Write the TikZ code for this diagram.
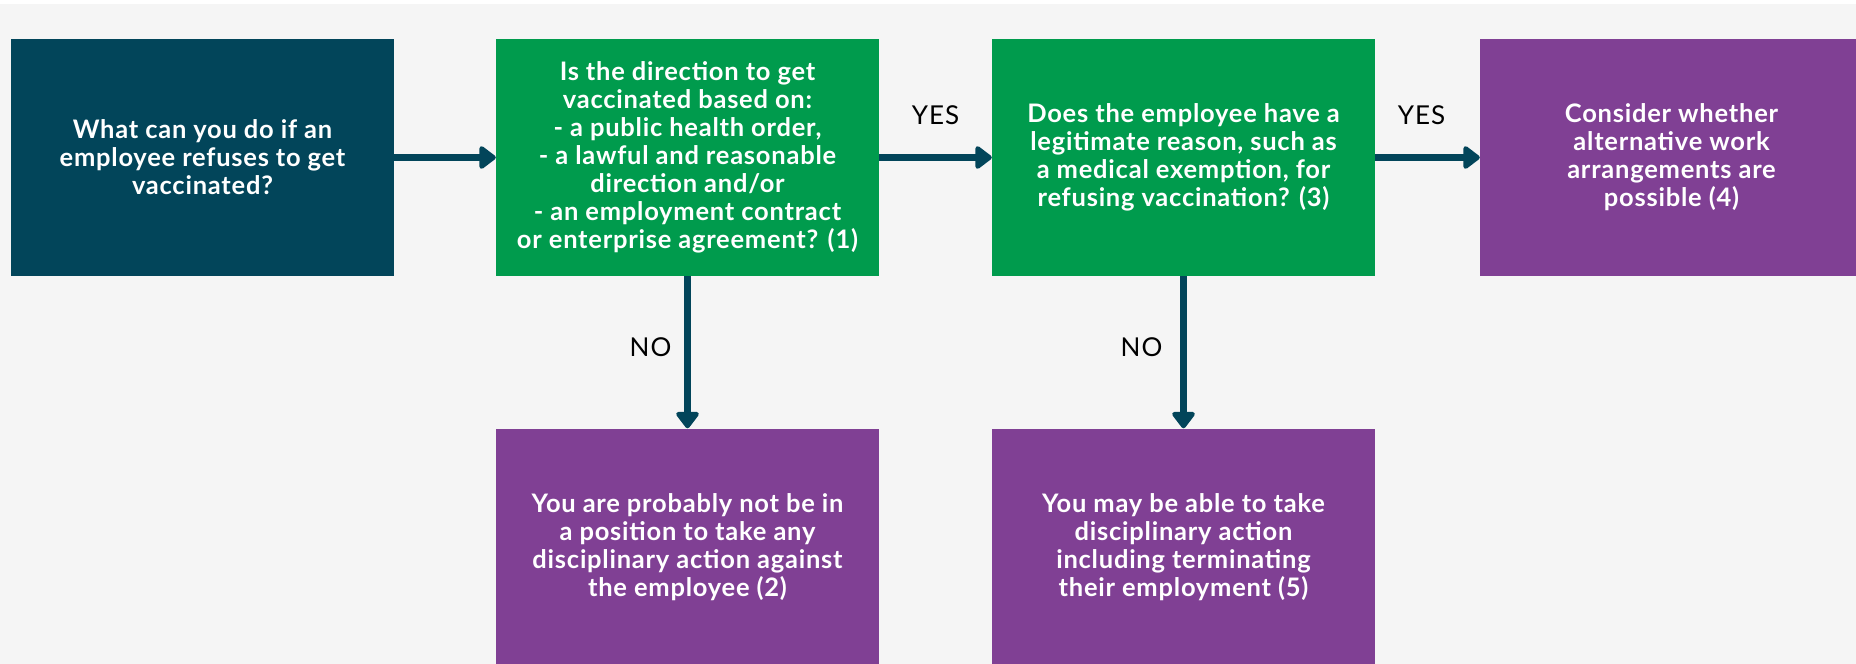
\documentclass[tikz,border=0pt]{standalone}
\usepackage{fontspec}
\setmainfont{Lato}[LetterSpace=3.0]
\newfontfamily\lblfont{Lato}[LetterSpace=4.0]
\usetikzlibrary{arrows.meta}
\definecolor{dteal}{RGB}{2,69,90}
\definecolor{dgreen}{RGB}{0,155,77}
\definecolor{dpurple}{RGB}{128,64,148}
\definecolor{bgc}{RGB}{245,245,245}
\begin{document}
\begin{tikzpicture}[x=1pt,y=1pt,
  box/.style={rectangle, minimum width=383pt, minimum height=237pt, inner sep=0pt,
    text=white, font=\fontsize{25.5}{28}\selectfont\bfseries, align=center},
  conn/.style={draw=dteal, line width=6.5pt, -{Triangle[length=18pt,width=26pt,round]}},
  lbl/.style={font=\lblfont\fontsize{26}{30}\selectfont, text=black, inner sep=0pt}]
\useasboundingbox (0,0) rectangle (1856,-664);
\fill[white] (0,0) rectangle (1856,-664);
\fill[bgc] (0,-4) rectangle (1856,-664);
\clip (0,0) rectangle (1856,-664);

\node[box, fill=dteal] (b1) at (202.5,-157.5) {What can you do if an\\employee refuses to get\\vaccinated?};
\node[box, fill=dgreen] (b2) at (687.5,-157.5) {Is the direction to get\\vaccinated based on:\\- a public health order,\\- a lawful and reasonable\\direction and/or\\- an employment contract\\or enterprise agreement? (1)};
\node[box, fill=dgreen] (b3) at (1183.5,-157.5) {Does the employee have a\\legitimate reason, such as\\a medical exemption, for\\refusing vaccination? (3)};
\node[box, fill=dpurple] (b4) at (1671.5,-157.5) {Consider whether\\alternative work\\arrangements are\\possible (4)};
\node[box, fill=dpurple] (b5) at (687.5,-547) {You are probably not be in\\a position to take any\\disciplinary action against\\the employee (2)};
\node[box, fill=dpurple] (b6) at (1183.5,-547) {You may be able to take\\disciplinary action\\including terminating\\their employment (5)};

\draw[conn] (b1.east) -- (b2.west);
\draw[conn] (b2.east) -- (b3.west) node[midway, lbl, yshift=42pt] {YES};
\draw[conn] (b3.east) -- (b4.west) node[midway, lbl, yshift=42pt, xshift=-6pt] {YES};
\draw[conn] (b2.south) -- (b5.north) node[midway, lbl, xshift=-37pt, yshift=5pt] {NO};
\draw[conn] (b3.south) -- (b6.north) node[midway, lbl, xshift=-42pt, yshift=5pt] {NO};
\end{tikzpicture}
\end{document}
